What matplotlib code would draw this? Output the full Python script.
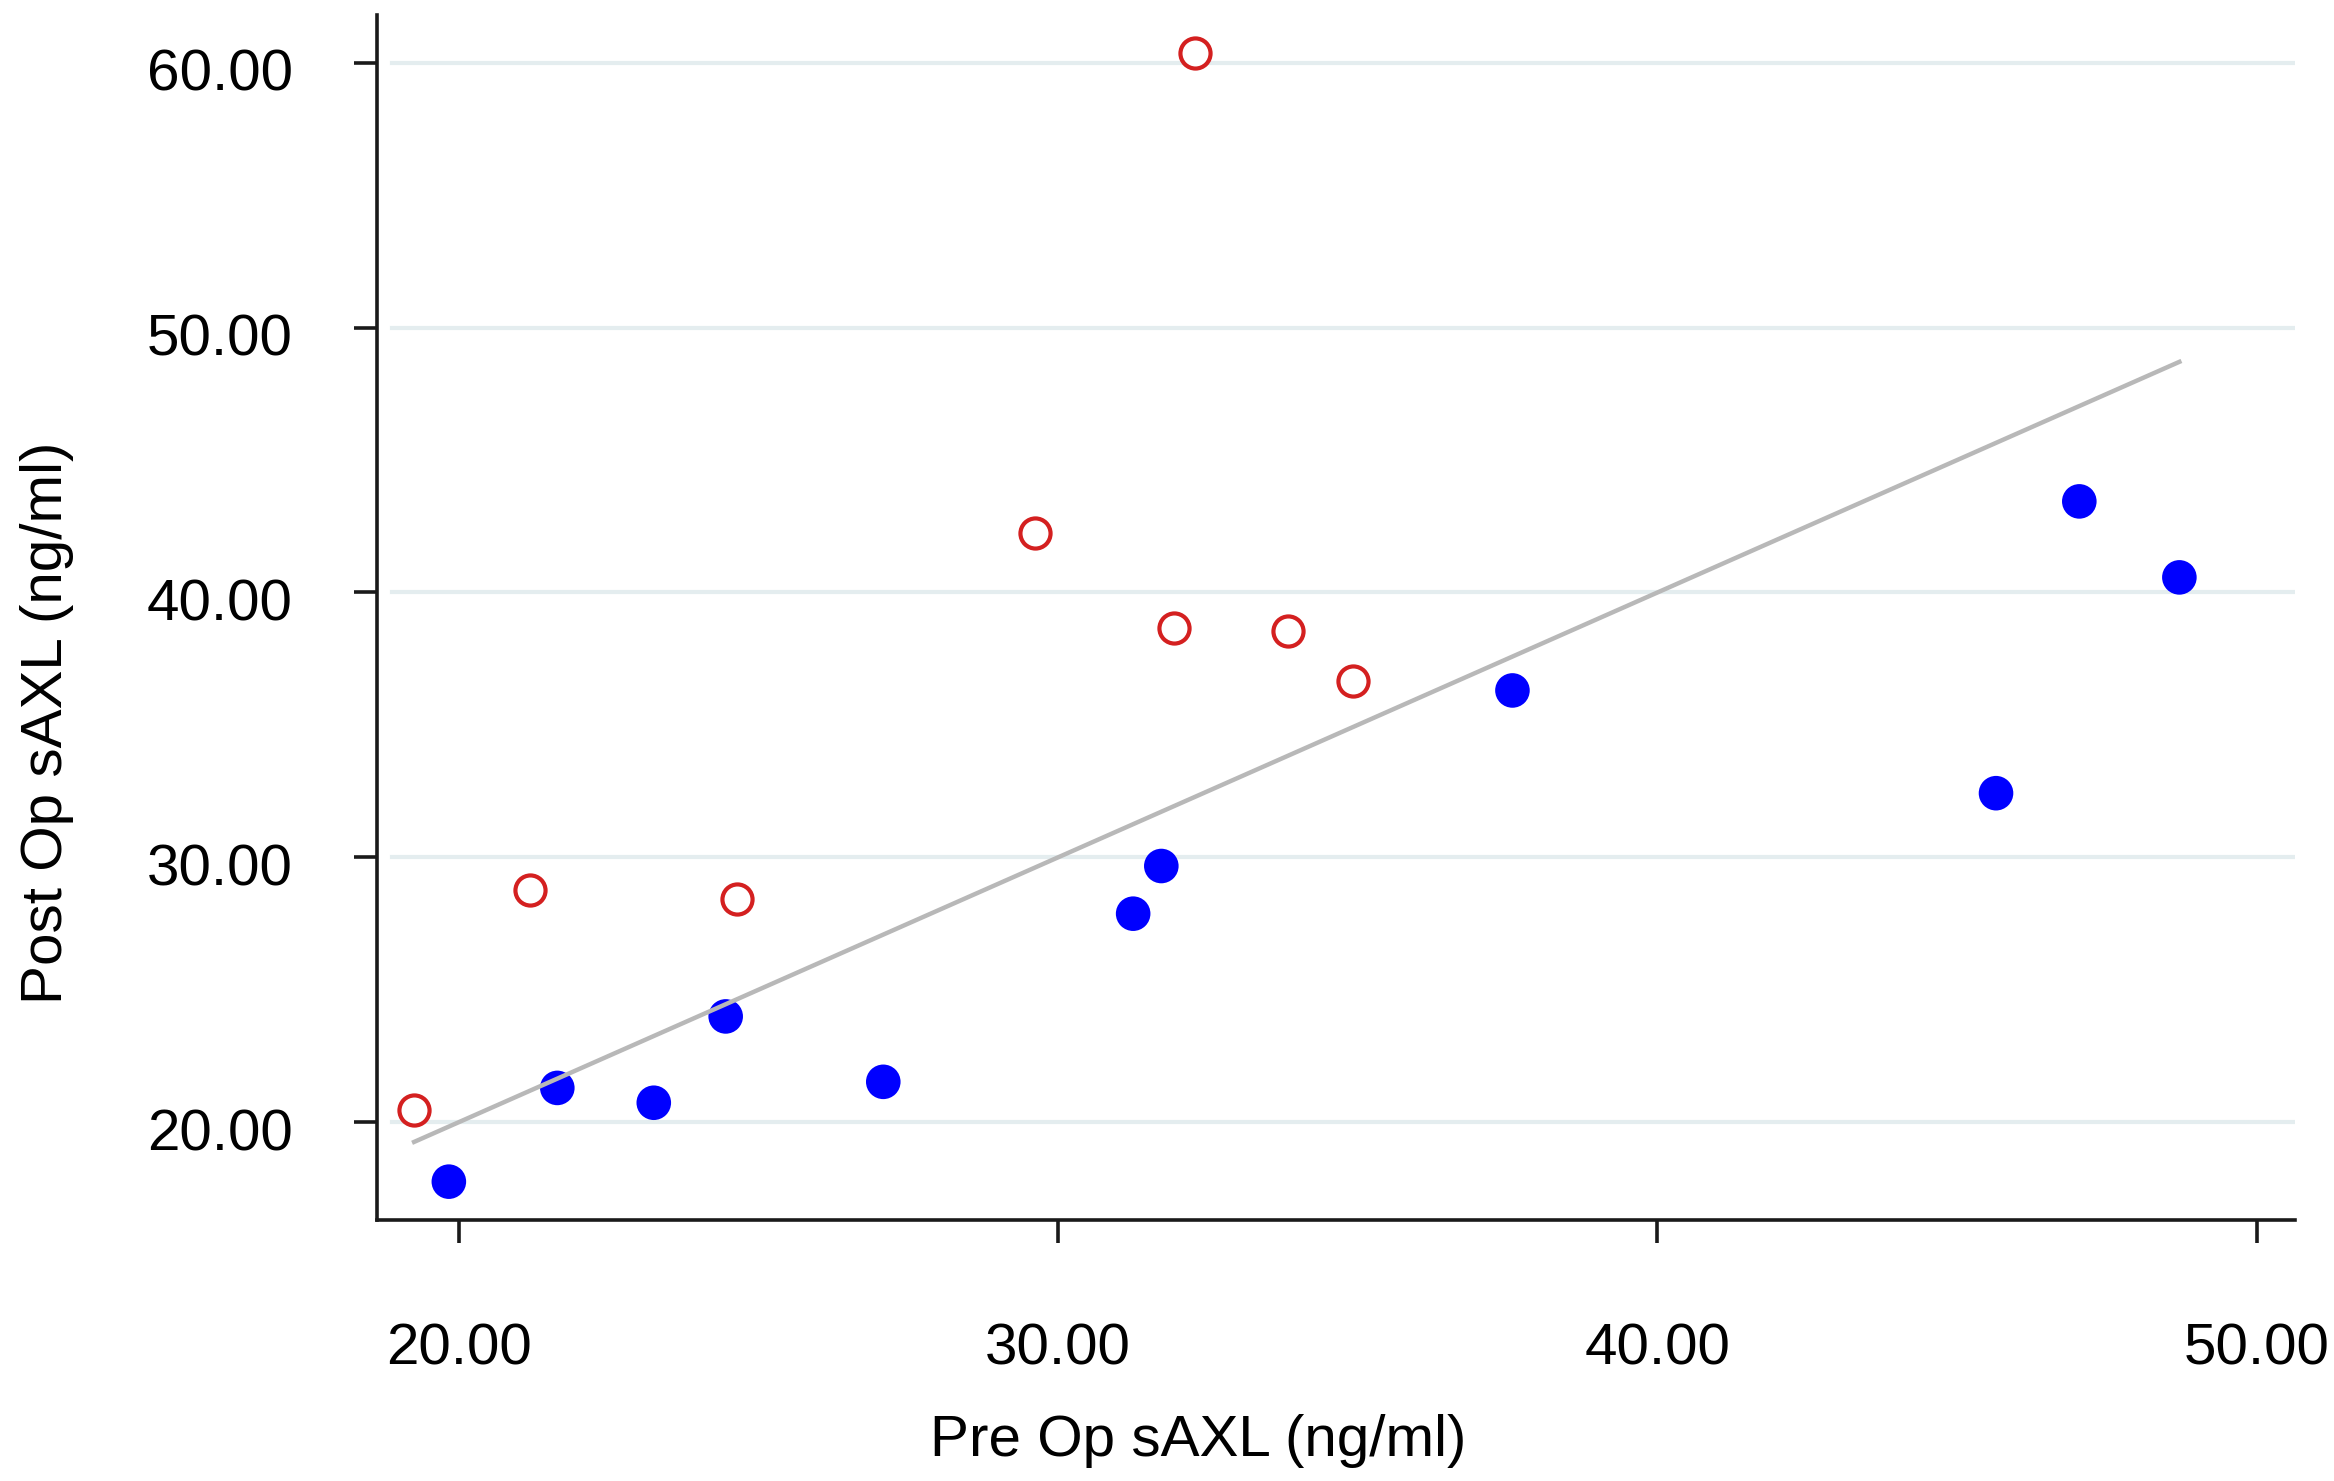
import numpy as np
import matplotlib
matplotlib.use('Agg')
import matplotlib.pyplot as plt
import matplotlib.transforms as mtransforms

plt.rcParams['font.family'] = ['Liberation Sans', 'DejaVu Sans']

# post op higher than pre op (open red)
pre_up = [19.25, 21.19, 24.64, 29.61, 31.94, 33.83, 34.92, 32.29]
post_up = [20.45, 28.77, 28.43, 42.26, 38.66, 38.55, 36.64, 60.36]

# post op lower than pre op (filled blue)
pre_down = [19.83, 21.64, 23.25, 24.45, 27.08, 31.25, 31.72, 37.58, 45.65, 47.04, 48.71]
post_down = [17.75, 21.29, 20.73, 23.99, 21.52, 27.87, 29.67, 36.30, 32.42, 43.44, 40.57]

x_ticks = [20, 30, 40, 50]
y_ticks = [20, 30, 40, 50, 60]

fig = plt.figure(figsize=(23.34, 14.81), dpi=100)
ax = fig.add_axes([0.1615, 0.1762, 0.8218, 0.8137])

# grid lines
for yt in y_ticks:
    ax.axhline(yt, xmin=0.008, xmax=1.0, color='#e4edef', lw=3, zorder=0)

ax.scatter(pre_down, post_down, s=620, color='#0000ff', edgecolors='none', zorder=2)
ax.scatter(pre_up, post_up, s=470, facecolors='white', edgecolors='#d42020', linewidths=3.0, zorder=2)

# line of identity over the range of pre op values
all_pre = np.array(pre_up + pre_down)
lx = np.array([all_pre.min(), all_pre.max()])
ax.plot(lx, lx, color='#b8b8b8', lw=3.2, zorder=3)

ax.set_xlim(18.63, 50.64)
ax.set_ylim(16.30, 61.81)
ax.set_xticks(x_ticks)
ax.set_yticks(y_ticks)
ax.set_xticklabels(['%.2f' % v for v in x_ticks])
ax.set_yticklabels(['%.2f' % v for v in y_ticks])

for s in ['top', 'right']:
    ax.spines[s].set_visible(False)
for s in ['left', 'bottom']:
    ax.spines[s].set_linewidth(2.6)
    ax.spines[s].set_color('#1a1a1a')

ax.tick_params(axis='both', direction='out', length=16.5, width=2.6, color='#1a1a1a', labelsize=42)
ax.tick_params(axis='x', pad=57)
ax.tick_params(axis='y', pad=44)

# y tick labels sit a bit below their ticks in the original
shift = mtransforms.ScaledTranslation(0, -0.07, fig.dpi_scale_trans)
for lab in ax.get_yticklabels():
    lab.set_transform(lab.get_transform() + shift)

ax.set_xlabel('Pre Op sAXL (ng/ml)', fontsize=42)
ax.set_ylabel('Post Op sAXL (ng/ml)', fontsize=42)
ax.xaxis.label.set_verticalalignment('center')
ax.yaxis.label.set_verticalalignment('center')
ax.yaxis.label.set_horizontalalignment('center')
ax.xaxis.set_label_coords(0.428, -0.1834)
ax.yaxis.set_label_coords(-0.172, 0.413)

fig.savefig('out.png', dpi=100)
